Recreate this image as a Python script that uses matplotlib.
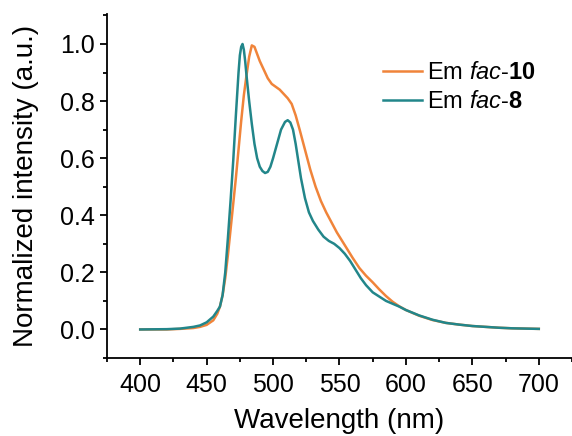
import numpy as np
import matplotlib.pyplot as plt
from matplotlib.ticker import MultipleLocator

plt.rcParams['font.family'] = ['Liberation Sans', 'DejaVu Sans']
plt.rcParams['mathtext.fontset'] = 'custom'
plt.rcParams['mathtext.rm'] = 'Liberation Sans'
plt.rcParams['mathtext.it'] = 'Liberation Sans:italic'
plt.rcParams['mathtext.bf'] = 'Liberation Sans:bold'

# Em fac-10 (orange)
wl_10 = [400, 420, 430, 440, 445, 450, 455, 458, 460, 462, 464, 466, 468, 470,
         472, 474, 476, 478, 480, 482, 484, 486, 488, 490, 493, 496, 499, 502,
         505, 508, 511, 514, 517, 520, 524, 528, 532, 536, 540, 544, 548, 552,
         556, 560, 565, 570, 575, 580, 585, 590, 595, 600, 610, 620, 630, 640,
         650, 660, 670, 680, 690, 700]
em_10 = [0.0, 0.0, 0.002, 0.005, 0.009, 0.016, 0.032, 0.055, 0.08, 0.12, 0.18,
         0.26, 0.35, 0.44, 0.53, 0.63, 0.73, 0.82, 0.89, 0.955, 0.995, 0.99,
         0.965, 0.94, 0.91, 0.88, 0.86, 0.85, 0.84, 0.825, 0.81, 0.79, 0.75,
         0.70, 0.63, 0.56, 0.50, 0.45, 0.41, 0.375, 0.34, 0.31, 0.28, 0.25,
         0.215, 0.188, 0.165, 0.14, 0.117, 0.097, 0.081, 0.068, 0.048, 0.033,
         0.023, 0.017, 0.012, 0.009, 0.006, 0.004, 0.003, 0.002]

# Em fac-8 (teal)
wl_8 = [400, 420, 430, 440, 445, 450, 455, 458, 460, 462, 464, 466, 468, 470,
        472, 474, 475, 476, 477, 478, 479, 480, 482, 484, 486, 488, 490, 492,
        494, 496, 498, 500, 503, 506, 509, 511, 513, 515, 517, 519, 521, 524,
        527, 530, 534, 538, 542, 546, 550, 554, 558, 562, 566, 570, 575, 580,
        585, 590, 595, 600, 610, 620, 630, 640, 650, 660, 670, 680, 690, 700]
em_8 = [0.0, 0.001, 0.003, 0.009, 0.014, 0.025, 0.045, 0.065, 0.08, 0.12, 0.20,
        0.32, 0.45, 0.59, 0.75, 0.90, 0.96, 0.99, 1.0, 0.98, 0.94, 0.89, 0.80,
        0.72, 0.65, 0.60, 0.57, 0.555, 0.548, 0.552, 0.57, 0.60, 0.65, 0.70,
        0.727, 0.733, 0.725, 0.70, 0.65, 0.59, 0.53, 0.46, 0.41, 0.38, 0.35,
        0.325, 0.31, 0.30, 0.285, 0.265, 0.24, 0.21, 0.18, 0.155, 0.13, 0.115,
        0.10, 0.09, 0.08, 0.068, 0.049, 0.034, 0.023, 0.017, 0.012, 0.009,
        0.006, 0.004, 0.003, 0.002]

fig = plt.figure(figsize=(5.72, 4.36), dpi=100)
ax = fig.add_axes([107/572, 78/436, 465/572, 344/436])

ax.plot(wl_10, em_10, color='#f0843a', lw=1.8, label=r'Em $\mathit{fac}$-$\mathbf{10}$')
ax.plot(wl_8, em_8, color='#22868a', lw=1.8, label=r'Em $\mathit{fac}$-$\mathbf{8}$')

ax.set_xlim(375, 725)
ax.set_ylim(-0.1, 1.105)
ax.xaxis.set_minor_locator(MultipleLocator(25))
ax.yaxis.set_minor_locator(MultipleLocator(0.1))
ax.set_xticks(np.arange(400, 701, 50))
ax.set_yticks(np.arange(0, 1.01, 0.2))
ax.yaxis.set_major_formatter(plt.FuncFormatter(lambda v, p: f'{v:.1f}'))

for s in ['top', 'right']:
    ax.spines[s].set_visible(False)
for s in ['left', 'bottom']:
    ax.spines[s].set_linewidth(1.3)
ax.tick_params(which='major', direction='out', length=5, width=1.3, labelsize=18)
ax.tick_params(axis='x', which='major', pad=6)
ax.tick_params(axis='y', which='major', pad=4)
ax.tick_params(which='minor', direction='out', length=3, width=1.3)

ax.set_xlabel('Wavelength (nm)', fontsize=20, labelpad=8)
ax.set_ylabel('Normalized intensity (a.u.)', fontsize=20, labelpad=15)

ax.legend(loc='upper left', bbox_to_anchor=(383/572, 1 - 62/436),
          bbox_transform=fig.transFigure, frameon=False, fontsize=17,
          handlelength=1.65, handletextpad=0.2, labelspacing=0.3,
          borderpad=0, borderaxespad=0)

fig.savefig('out.png', dpi=100)
